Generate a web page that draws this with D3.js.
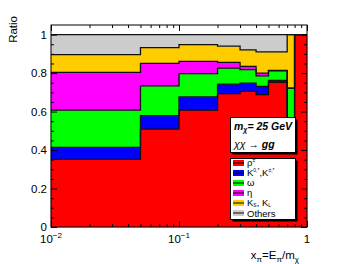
<!DOCTYPE html>
<html><head><meta charset="utf-8">
<script src="https://cdn.jsdelivr.net/npm/d3@7"></script>
<style>
body{margin:0;background:#fff}
svg{display:block}
text{font-family:"Liberation Sans",Arial,Helvetica,sans-serif;fill:#000}
</style>
</head><body>
<svg id="c" width="341" height="264"></svg>
<script>
// ---- data ----
const binEdges = [0.01, 0.05, 0.1, 0.2, 0.3, 0.4, 0.5, 0.7, 0.8, 1.0];
const rho    = [0.352, 0.509, 0.608, 0.693, 0.705, 0.688, 0.752, 0.450, 1.000];
const kstar  = [0.062, 0.070, 0.068, 0.050, 0.043, 0.043, 0.010, 0.000, 0.000];
const omega  = [0.194, 0.155, 0.121, 0.083, 0.070, 0.055, 0.050, 0.272, 0.000];
const eta    = [0.196, 0.117, 0.064, 0.030, 0.017, 0.014, 0.002, 0.000, 0.000];
const kshort = [0.092, 0.081, 0.087, 0.084, 0.086, 0.110, 0.096, 0.278, 0.000];
const others = [0.104, 0.068, 0.052, 0.060, 0.079, 0.090, 0.090, 0.000, 0.000];
const yMajorTicks = [0, 0.2, 0.4, 0.6, 0.8, 1];
const yTickLabels = ["0", "0.2", "0.4", "0.6", "0.8", "1"];
const xMajorTicks = [0.01, 0.1, 1];
const xTickBase = ["10", "10", "1"];
const xTickExp = ["\u22122", "\u22121", ""];

const keys = ["rho","kstar","omega","eta","kshort","others"];
const seriesData = {rho, kstar, omega, eta, kshort, others};
const colors = {rho:"#ff0000", kstar:"#0000ff", omega:"#00ff00", eta:"#ff00ff", kshort:"#ffcc00", others:"#cccccc"};

// ---- layout ----
const svg = d3.select("#c");
const L = 51, R = 307, T = 25, B = 227;
const x = d3.scaleLog().domain([0.01, 1]).range([L, R]);
const y = d3.scaleLinear().domain([0, 1.05]).range([B, T]);

const rows = binEdges.map((e, i) => {
  const j = Math.min(i, binEdges.length - 2);
  const r = {edge: e};
  keys.forEach(k => r[k] = seriesData[k][j]);
  return r;
});
const stacked = d3.stack().keys(keys)(rows);

const area = d3.area()
  .x(d => x(d.data.edge))
  .y0(d => y(d[0]))
  .y1(d => y(d[1]))
  .curve(d3.curveStepAfter);
const line = d3.line()
  .x(d => x(d.data.edge))
  .y(d => y(d[1]))
  .curve(d3.curveStepAfter);

const plot = svg.append("g");
plot.append("rect").attr("x", L).attr("y", T).attr("width", R - L).attr("height", B - T).attr("fill", "#fff");
plot.selectAll("path.a").data(stacked).join("path")
  .attr("class", "a")
  .attr("d", area)
  .attr("fill", d => colors[d.key])
  .attr("stroke", d => colors[d.key])
  .attr("stroke-width", 0.5);
plot.selectAll("path.l").data(stacked).join("path")
  .attr("class", "l")
  .attr("d", line)
  .attr("fill", "none")
  .attr("stroke", "#111")
  .attr("stroke-width", 1.3);

// ---- axes (ticks inside, on all four sides) ----
const yMinor = d3.range(0, 1.0001, 0.05).filter(v => !yMajorTicks.some(m => Math.abs(m - v) < 1e-6));
const xMinor = [];
[0.01, 0.1].forEach(d => { for (let k = 2; k <= 9; k++) xMinor.push(d * k); });

function styleAxis(g) {
  g.select(".domain").remove();
  g.selectAll("line").attr("stroke", "#000").attr("stroke-width", 1);
}
svg.append("g").attr("transform", `translate(${L},0)`)
  .call(d3.axisLeft(y).tickValues(yMajorTicks).tickSize(-6).tickPadding(4)
        .tickFormat((d, i) => yTickLabels[i]))
  .call(styleAxis)
  .call(g => g.selectAll("text").attr("font-size", 11.5).attr("font-family", null));
svg.append("g").attr("transform", `translate(${L},0)`)
  .call(d3.axisLeft(y).tickValues(yMinor).tickSize(-3).tickFormat(""))
  .call(styleAxis);
svg.append("g").attr("transform", `translate(${R},0)`)
  .call(d3.axisRight(y).tickValues(yMajorTicks).tickSize(-6).tickFormat(""))
  .call(styleAxis);
svg.append("g").attr("transform", `translate(${R},0)`)
  .call(d3.axisRight(y).tickValues(yMinor).tickSize(-3).tickFormat(""))
  .call(styleAxis);
svg.append("g").attr("transform", `translate(0,${B})`)
  .call(d3.axisBottom(x).tickValues(xMajorTicks).tickSize(-6).tickFormat(""))
  .call(styleAxis);
svg.append("g").attr("transform", `translate(0,${B})`)
  .call(d3.axisBottom(x).tickValues(xMinor).tickSize(-3).tickFormat(""))
  .call(styleAxis);
svg.append("g").attr("transform", `translate(0,${T})`)
  .call(d3.axisTop(x).tickValues(xMajorTicks).tickSize(-6).tickFormat(""))
  .call(styleAxis);
svg.append("g").attr("transform", `translate(0,${T})`)
  .call(d3.axisTop(x).tickValues(xMinor).tickSize(-3).tickFormat(""))
  .call(styleAxis);

xMajorTicks.forEach((v, i) => {
  const t = svg.append("text").attr("x", x(v)).attr("y", 243)
    .attr("text-anchor", "middle").attr("font-size", 11.5);
  t.append("tspan").text(xTickBase[i]);
  if (xTickExp[i]) t.append("tspan").attr("dy", -5).attr("font-size", 8).text(xTickExp[i]);
});

svg.append("rect").attr("x", L).attr("y", T).attr("width", R - L).attr("height", B - T)
  .attr("fill", "none").attr("stroke", "#000").attr("stroke-width", 1);

svg.append("text").attr("transform", "translate(17,16) rotate(-90)")
  .attr("text-anchor", "end").attr("font-size", 11.5).text("Ratio");
const xt = svg.append("text").attr("x", 299).attr("y", 259).attr("text-anchor", "end").attr("font-size", 11.5);
xt.append("tspan").text("x");
xt.append("tspan").attr("dy", 3).attr("font-size", 8).text("\u03c0");
xt.append("tspan").attr("dy", -3).text("=E");
xt.append("tspan").attr("dy", 3).attr("font-size", 8).text("\u03c0");
xt.append("tspan").attr("dy", -3).text("/m");
xt.append("tspan").attr("dy", 3).attr("font-size", 8).text("\u03c7");

// ---- info box ----
function shadowBox(x0, y0, w, h) {
  svg.append("rect").attr("x", x0 + 2).attr("y", y0 + 2).attr("width", w).attr("height", h).attr("fill", "#000");
  svg.append("rect").attr("x", x0).attr("y", y0).attr("width", w).attr("height", h)
    .attr("fill", "#fff").attr("stroke", "#000").attr("stroke-width", 1);
}
shadowBox(230.5, 117.5, 65, 35);
const t1 = svg.append("text").attr("x", 234).attr("y", 130).attr("font-size", 10.5)
  .attr("font-weight", "bold").attr("font-style", "italic");
t1.append("tspan").text("m");
t1.append("tspan").attr("dy", 2).attr("font-size", 7).text("\u03c7");
t1.append("tspan").attr("dy", -2).text("= 25 GeV");
const t2 = svg.append("text").attr("x", 234).attr("y", 148).attr("font-size", 10.5);
t2.append("tspan").attr("font-style", "italic").text("\u03c7\u03c7");
t2.append("tspan").text(" \u2192 ");
t2.append("tspan").attr("font-weight", "bold").attr("font-style", "italic").text("gg");

// ---- legend ----
shadowBox(230.5, 158.5, 65, 61);
const legendLabels = {
  rho: [["\u03c1", 0], ["\u00b1", -4]],
  kstar: [["K", 0], ["0,*", -4], [",K", 0], ["\u00b1,*", -4]],
  omega: [["\u03c9", 0]],
  eta: [["\u03b7", 0]],
  kshort: [["K", 0], ["S", 1], [", K", 0], ["L", 1]],
  others: [["Others", 0]]
};
const baseOff = {rho:3.3, kstar:3.3, omega:3.3, eta:3.3, kshort:3.0, others:3.8};
keys.forEach((k, i) => {
  const cy = 163 + i * 10;
  svg.append("rect").attr("x", 233).attr("y", cy - 3).attr("width", 11).attr("height", 6)
    .attr("fill", colors[k]);
  svg.append("line").attr("x1", 233).attr("x2", 244).attr("y1", cy).attr("y2", cy)
    .attr("stroke", "#000").attr("stroke-width", 1);
  const t = svg.append("text").attr("x", 247).attr("y", cy + baseOff[k]).attr("font-size", 9.5);
  let prev = 0;
  legendLabels[k].forEach(([s, off]) => {
    const sp = t.append("tspan").attr("dy", off - prev).text(s);
    if (off !== 0) sp.attr("font-size", 5);
    prev = off;
  });
});
</script>
</body></html>
